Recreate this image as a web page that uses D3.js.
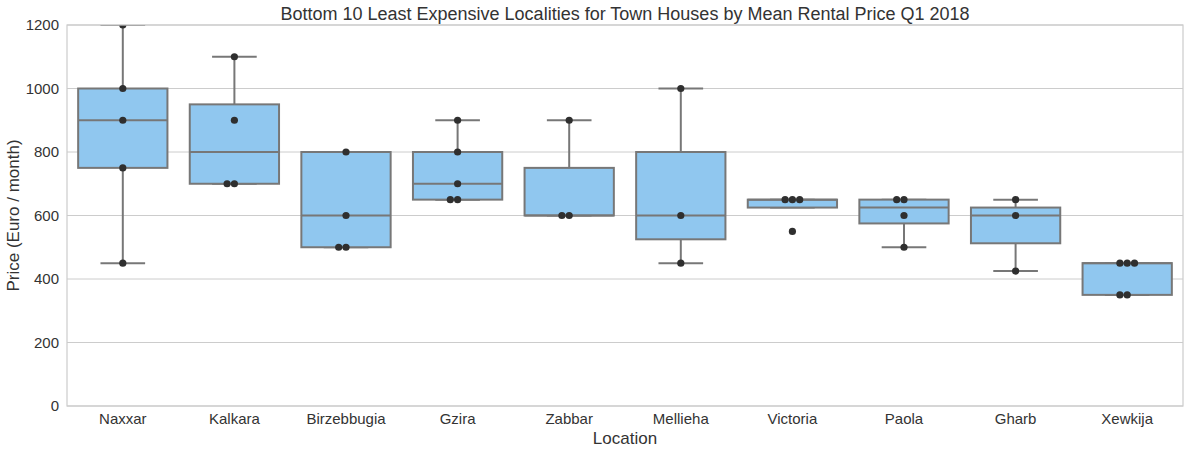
<!DOCTYPE html>
<html><head><meta charset="utf-8">
<script src="https://cdn.jsdelivr.net/npm/d3@7"></script>
<style>body{margin:0;background:#fff}svg{font-family:"Liberation Sans",Arial,sans-serif}</style>
</head><body><svg id="c" width="1190" height="453"></svg>
<script>
const categories = ["Naxxar","Kalkara","Birzebbugia","Gzira","Zabbar","Mellieha","Victoria","Paola","Gharb","Xewkija"];
const points = [
  [1200,1000,900,750,450],
  [1100,900,700,700],
  [800,600,500,500],
  [900,800,700,650,650],
  [900,600,600],
  [1000,600,450],
  [650,650,650,550],
  [650,650,600,500],
  [650,600,425],
  [450,450,450,350,350]
];
const q1s       = [750,700,500,650,600,525,625,575,512.5,350];
const medians   = [900,800,600,700,600,600,650,625,600,450];
const q3s       = [1000,950,800,800,750,800,650,650,625,450];
const whiskLow  = [450,700,500,650,600,450,625,500,425,350];
const whiskHigh = [1200,1100,800,900,900,1000,650,650,650,450];
const yTicks = [0,200,400,600,800,1000,1200];

const svg = d3.select("#c");
const m = {l:67, r:1183, t:25, b:406};
const x = d3.scaleBand().domain(categories).range([m.l, m.r]).paddingInner(0).paddingOuter(0);
const y = d3.scaleLinear().domain([0,1200]).range([m.b, m.t]);
const textCol = "#333333";
const gridCol = "#cccccc";
const boxFill = "#90c7ef";
const lineCol = "#777777";

svg.append("defs").append("clipPath").attr("id","clip").append("rect")
  .attr("x", m.l).attr("y", m.t).attr("width", m.r-m.l).attr("height", m.b-m.t);

// grid
svg.append("g").selectAll("line").data(yTicks).join("line")
  .attr("x1", m.l).attr("x2", m.r).attr("y1", d=>y(d)).attr("y2", d=>y(d))
  .attr("stroke", gridCol).attr("stroke-width", 1);

// y axis
const yAxis = d3.axisLeft(y).tickValues(yTicks).tickFormat(d3.format("d")).tickSize(0).tickPadding(8);
const gy = svg.append("g").attr("transform", `translate(${m.l},0)`).call(yAxis);
gy.select(".domain").remove();
gy.selectAll("text").attr("fill", textCol).style("font-size","15px");

// x axis
const xAxis = d3.axisBottom(x).tickSize(0).tickPadding(7);
const gx = svg.append("g").attr("transform", `translate(0,${m.b})`).call(xAxis);
gx.select(".domain").remove();
gx.selectAll("text").attr("fill", textCol).style("font-size","15px");

const bw = x.bandwidth()*0.8;
const g = svg.append("g").attr("clip-path","url(#clip)");
categories.forEach((c,i) => {
  const cx = x(c) + x.bandwidth()/2;
  const gg = g.append("g");
  gg.append("line").attr("x1",cx).attr("x2",cx).attr("y1",y(q3s[i])).attr("y2",y(whiskHigh[i]))
    .attr("stroke",lineCol).attr("stroke-width",2);
  gg.append("line").attr("x1",cx).attr("x2",cx).attr("y1",y(q1s[i])).attr("y2",y(whiskLow[i]))
    .attr("stroke",lineCol).attr("stroke-width",2);
  [whiskHigh[i], whiskLow[i]].forEach(v => {
    gg.append("line").attr("x1",cx-bw/4).attr("x2",cx+bw/4).attr("y1",y(v)).attr("y2",y(v))
      .attr("stroke",lineCol).attr("stroke-width",2);
  });
  gg.append("rect").attr("x",cx-bw/2).attr("width",bw).attr("y",y(q3s[i])).attr("height",y(q1s[i])-y(q3s[i]))
    .attr("fill",boxFill).attr("stroke",lineCol).attr("stroke-width",2);
  gg.append("line").attr("x1",cx-bw/2).attr("x2",cx+bw/2).attr("y1",y(medians[i])).attr("y2",y(medians[i]))
    .attr("stroke",lineCol).attr("stroke-width",2);
  const counts = {};
  points[i].forEach(v => {
    const k = counts[v] || 0; counts[v] = k+1;
    const off = k===0 ? 0 : (k%2===1 ? -Math.ceil(k/2) : Math.ceil(k/2)) * 7.3;
    gg.append("circle").attr("cx", cx+off).attr("cy", y(v)).attr("r", 3.6).attr("fill","#2f2f2f");
  });
});

// spines on top
svg.append("rect").attr("x", m.l).attr("y", m.t).attr("width", m.r-m.l).attr("height", m.b-m.t)
  .attr("fill","none").attr("stroke", gridCol).attr("stroke-width", 1.2);

svg.append("text").attr("x", (m.l+m.r)/2).attr("y", 20).attr("text-anchor","middle")
  .attr("fill",textCol).style("font-size","18px").text("Bottom 10 Least Expensive Localities for Town Houses by Mean Rental Price Q1 2018");
svg.append("text").attr("x", (m.l+m.r)/2).attr("y", 444).attr("text-anchor","middle")
  .attr("fill",textCol).style("font-size","17px").text("Location");
svg.append("text").attr("transform", `translate(19,${(m.t+m.b)/2}) rotate(-90)`).attr("text-anchor","middle")
  .attr("fill",textCol).style("font-size","17px").text("Price (Euro / month)");
</script></body></html>
